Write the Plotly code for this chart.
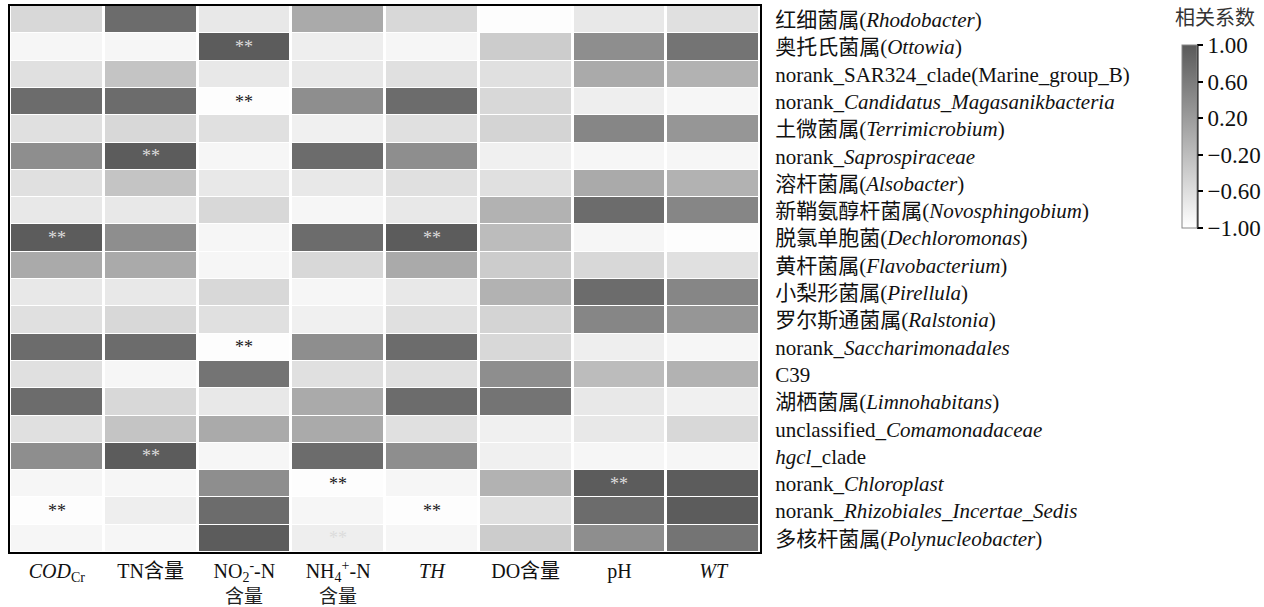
import plotly.graph_objects as go

# ---------------- data ----------------
row_labels = [
    "红细菌属(<i>Rhodobacter</i>)",
    "奥托氏菌属(<i>Ottowia</i>)",
    "norank_SAR324_clade(Marine_group_B)",
    "norank_<i>Candidatus_Magasanikbacteria</i>",
    "土微菌属(<i>Terrimicrobium</i>)",
    "norank_<i>Saprospiraceae</i>",
    "溶杆菌属(<i>Alsobacter</i>)",
    "新鞘氨醇杆菌属(<i>Novosphingobium</i>)",
    "脱氯单胞菌(<i>Dechloromonas</i>)",
    "黄杆菌属(<i>Flavobacterium</i>)",
    "小梨形菌属(<i>Pirellula</i>)",
    "罗尔斯通菌属(<i>Ralstonia</i>)",
    "norank_<i>Saccharimonadales</i>",
    "C39",
    "湖栖菌属(<i>Limnohabitans</i>)",
    "unclassified_<i>Comamonadaceae</i>",
    "<i>hgcl</i>_clade",
    "norank_<i>Chloroplast</i>",
    "norank_<i>Rhizobiales_Incertae_Sedis</i>",
    "多核杆菌属(<i>Polynucleobacter</i>)",
]

col_labels = [
    "<i>COD</i><sub>Cr</sub>",
    "TN含量",
    "NO<sub>2</sub><sup>-</sup>-N",
    "NH<sub>4</sub><sup>+</sup>-N",
    "<i>TH</i>",
    "DO含量",
    "pH",
    "<i>WT</i>",
]
# second line of the column labels (empty where none)
col_labels_line2 = ["", "", "含量", "含量", "", "", "", ""]

cod = [-0.53, -0.89, -0.62, 0.78, -0.62, 0.37, -0.62, -0.72, 0.98, 0.03,
       -0.72, -0.62, 0.78, -0.62, 0.78, -0.62, 0.37, -0.89, -0.98, -0.89]
tn = [0.78, -0.89, -0.28, 0.78, -0.53, 0.98, -0.28, -0.72, 0.37, 0.03,
      -0.72, -0.53, 0.78, -0.89, -0.53, -0.28, 0.98, -0.89, -0.79, -0.89]
no2 = [-0.72, 0.98, -0.72, -0.98, -0.62, -0.89, -0.72, -0.53, -0.89, -0.89,
       -0.53, -0.62, -0.98, 0.68, -0.72, 0.03, -0.89, 0.37, 0.78, 0.98]
nh4 = [0.03, -0.79, -0.72, 0.37, -0.82, 0.78, -0.72, -0.89, 0.78, -0.53,
       -0.89, -0.82, 0.37, -0.62, 0.03, 0.03, 0.78, -0.98, -0.89, -0.79]
th = [-0.53, -0.89, -0.62, 0.78, -0.62, 0.37, -0.62, -0.72, 0.98, 0.03,
      -0.72, -0.62, 0.78, -0.62, 0.78, -0.62, 0.37, -0.89, -0.98, -0.89]
do = [-0.97, -0.38, -0.62, -0.53, -0.48, -0.82, -0.62, -0.07, -0.19, -0.38,
      -0.07, -0.48, -0.53, 0.37, 0.68, -0.82, -0.82, -0.07, -0.62, -0.38]
ph = [-0.72, 0.37, 0.03, -0.79, 0.47, -0.89, 0.03, 0.78, -0.89, -0.53,
      0.78, 0.47, -0.79, -0.19, -0.72, -0.72, -0.89, 0.98, 0.78, 0.37]
wt = [-0.62, 0.68, -0.07, -0.89, 0.27, -0.89, -0.07, 0.47, -0.97, -0.62,
      0.47, 0.27, -0.89, -0.07, -0.82, -0.53, -0.89, 0.98, 0.98, 0.68]

# significance marks: (row index, column index, light text?)
sig_rows = [1, 3, 5, 8, 8, 12, 16, 17, 17, 18, 18, 19]
sig_cols = [2, 2, 1, 0, 4, 2, 1, 3, 6, 0, 4, 3]
sig_light = [True, False, True, True, True, False, True, False, True, False, False, True]

colorbar_ticks = [-1, -0.6, -0.2, 0.2, 0.6, 1]
colorbar_title = "相关系数"

# ---------------- figure ----------------
columns = [cod, tn, no2, nh4, th, do, ph, wt]
z = [[columns[j][i] for j in range(len(columns))] for i in range(len(row_labels))]

SERIF = "Liberation Serif, Noto Sans CJK SC"

fig = go.Figure()
fig.add_trace(go.Heatmap(
    z=z,
    x=col_labels,
    y=row_labels,
    zmin=-1, zmax=1,
    colorscale=[[0, "#ffffff"], [1, "#5a5a5a"]],
    xgap=3, ygap=1,
    hoverinfo="skip",
    colorbar=dict(
        x=1.5627, xanchor="left",
        y=0.9286, yanchor="top",
        len=0.335, lenmode="fraction",
        thickness=15,
        outlinewidth=1, outlinecolor="#888",
        tickvals=colorbar_ticks,
        tickformat=".2f",
        ticks="outside", ticklen=6, tickwidth=2, tickcolor="#000",
        tickfont=dict(size=23, family="Liberation Serif", color="#111"),
        xpad=0, ypad=0,
    ),
))

annotations = []
for r, c, light in zip(sig_rows, sig_cols, sig_light):
    annotations.append(dict(
        x=col_labels[c], y=row_labels[r], xref="x", yref="y",
        text="**", showarrow=False,
        font=dict(size=18, family="Liberation Serif",
                  color="#dcdcdc" if light else "#1a1a1a"),
    ))
for lab, line2 in zip(col_labels, col_labels_line2):
    if line2:
        annotations.append(dict(
            x=lab, xref="x", y=0, yref="paper", yanchor="middle", yshift=-42,
            text=line2, showarrow=False,
            font=dict(size=19, family="Noto Sans CJK SC", color="#222"),
        ))
annotations.append(dict(
    x=1.6067, xref="paper", y=0.9799, yref="paper",
    xanchor="center", yanchor="middle",
    text=colorbar_title, showarrow=False,
    font=dict(size=20, family="Noto Sans CJK SC", color="#333"),
))

fig.update_layout(
    width=1264, height=607,
    margin=dict(l=10, r=504, t=6, b=55, autoexpand=False),
    paper_bgcolor="white", plot_bgcolor="white",
    font=dict(family=SERIF, size=21, color="#111"),
    annotations=annotations,
    shapes=[dict(type="line", xref="paper", yref="paper",
                 x0=1.5833, x1=1.5833, y0=0.5934, y1=0.9286,
                 line=dict(color="#000", width=2))],
)
fig.update_xaxes(
    side="bottom", showline=True, linecolor="#000", linewidth=2, mirror=True,
    ticks="", tickfont=dict(size=20), showgrid=False, zeroline=False,
)
fig.update_yaxes(
    side="right", autorange="reversed", showline=True, linecolor="#000",
    linewidth=2, mirror=True, ticks="", ticklabelstandoff=9,
    tickfont=dict(size=21), showgrid=False, zeroline=False,
)

fig.write_html(
    "out.html",
    config={"displayModeBar": False},
    post_script="document.body.style.margin='0px';document.body.style.overflow='hidden';",
)
